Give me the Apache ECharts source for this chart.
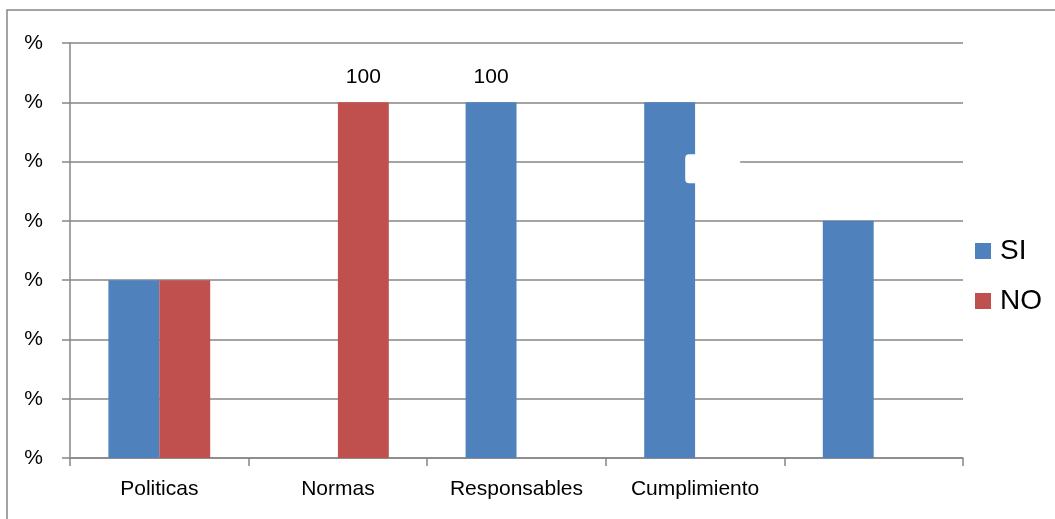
<!DOCTYPE html>
<html>
<head>
<meta charset="utf-8">
<script src="https://cdn.jsdelivr.net/npm/echarts@6/dist/echarts.min.js"></script>
<style>
  html, body { margin: 0; padding: 0; background: #fff; }
  #chart { width: 1055px; height: 519px; }
</style>
</head>
<body>
<div id="chart"></div>
<script>
const categories = ["Politicas", "Normas", "Responsables", "Cumplimiento", ""];
const siValues = [50, 0, 100, 100, 66.67];
const noValues = [50, 100, 0, 0, 0];
// labels shown only on these bars
const siLabels = ["", "", "100", "", ""];
const noLabels = ["", "100", "", "", ""];

const step = 100 / 6;
const gray = "#868686";
const font = "'Liberation Sans', 'DejaVu Sans', sans-serif";

let myChart = echarts.init(document.getElementById("chart"));
let option = {
  animation: false,
  backgroundColor: "#fff",
  textStyle: { fontFamily: font },
  graphic: [
    {
      type: "rect",
      shape: { x: 7, y: 10, width: 1100, height: 600 },
      style: { fill: "none", stroke: gray, lineWidth: 1.5 },
      z: -1,
    },
  ],
  grid: { left: 70, right: 92, top: 43, bottom: 61 },
  legend: {
    orient: "vertical",
    left: 975,
    top: 237,
    padding: 0,
    itemWidth: 16,
    itemHeight: 16,
    itemGap: 22,
    icon: "rect",
    textStyle: { fontSize: 28, color: "#000", fontFamily: font, padding: [0, 0, 0, 4] },
    data: ["SI", "NO"],
  },
  xAxis: {
    type: "category",
    data: categories,
    axisLine: { lineStyle: { color: gray, width: 1.5 } },
    axisTick: { show: true, length: 8, lineStyle: { color: gray, width: 1.5 } },
    axisLabel: { color: "#000", fontSize: 21, margin: 21 },
  },
  yAxis: {
    type: "value",
    min: 0,
    max: 7 * step,
    interval: step,
    axisLine: { show: true, lineStyle: { color: gray, width: 1.5 } },
    axisTick: { show: true, length: 8, lineStyle: { color: gray, width: 1.5 } },
    axisLabel: { color: "#000", fontSize: 21, margin: 27, formatter: () => "%" },
    splitLine: { lineStyle: { color: gray, width: 1.5 } },
  },
  series: [
    {
      name: "SI",
      type: "bar",
      barGap: "0%",
      barCategoryGap: "43%",
      itemStyle: { color: "#4F81BD" },
      label: {
        show: true,
        position: "top",
        distance: 15,
        fontSize: 21,
        color: "#000",
        formatter: (p) => siLabels[p.dataIndex],
      },
      data: siValues.map((v, i) =>
        i === 3
          ? {
              value: v,
              label: {
                position: [41, 52],
                formatter: "{b| }",
                rich: { b: { width: 55, height: 29, backgroundColor: "#fff", borderRadius: 4 } },
              },
            }
          : v
      ),
    },
    {
      name: "NO",
      type: "bar",
      itemStyle: { color: "#C0504D" },
      label: {
        show: true,
        position: "top",
        distance: 15,
        fontSize: 21,
        color: "#000",
        formatter: (p) => noLabels[p.dataIndex],
      },
      data: noValues,
    },
  ],
};
myChart.setOption(option);
</script>
</body>
</html>
